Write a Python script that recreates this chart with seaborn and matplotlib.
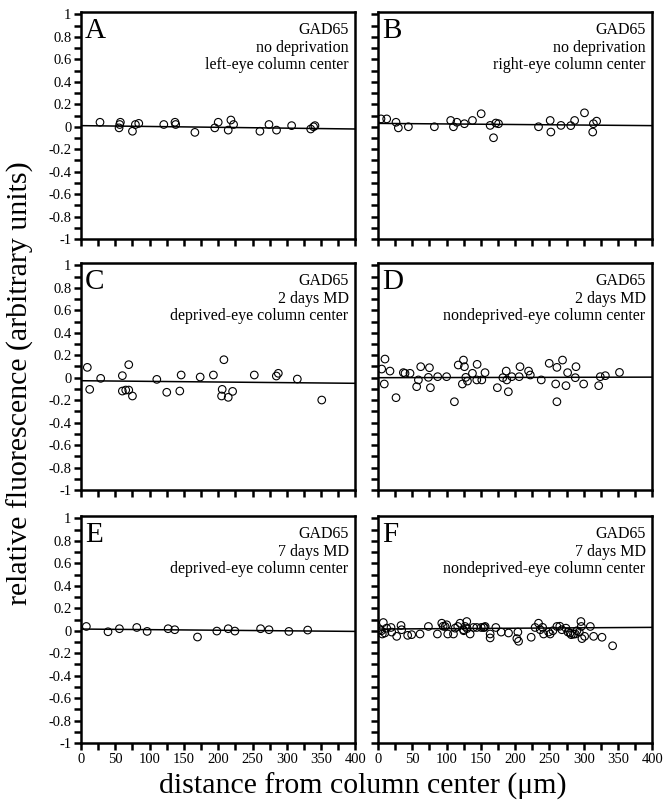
import numpy as np
import pandas as pd
import matplotlib
matplotlib.use("Agg")
import matplotlib.pyplot as plt
from matplotlib.ticker import MultipleLocator
import seaborn as sns

# Panel labels and annotation text
panels = ["A", "B", "C", "D", "E", "F"]
conditions = ["no deprivation", "no deprivation", "2 days MD",
              "2 days MD", "7 days MD", "7 days MD"]
centers = ["left-eye column center", "right-eye column center",
           "deprived-eye column center", "nondeprived-eye column center",
           "deprived-eye column center", "nondeprived-eye column center"]

# Fitted lines (value at 0 um and at 400 um)
fit_y0 = [0.01, 0.03, -0.027, 0.0, 0.015, 0.015]
fit_y1 = [-0.02, 0.01, -0.05, 0.005, -0.006, 0.03]

# Scatter data
a_x = [27.7, 57.4, 56.4, 55.5, 75, 79.3, 84.2, 120.7, 137, 138, 166, 195,
       200, 214.6, 218.5, 222.4, 260.8, 274, 285, 307, 334.8, 339, 341]
a_y = [0.04, 0.04, 0.02, -0.01, -0.04, 0.02, 0.03, 0.02, 0.04, 0.02, -0.05,
       -0.01, 0.04, -0.03, 0.06, 0.02, -0.04, 0.02, -0.03, 0.01, -0.02, 0.0,
       0.01]

b_x = [4.4, 12.7, 26.3, 29.7, 44.3, 82.2, 106, 110, 115, 126, 137.7, 150.4,
       163.5, 168.4, 171.8, 175.7, 234, 251, 252, 266.7, 281, 286.6, 301,
       313, 314, 318.7]
b_y = [0.07, 0.07, 0.04, -0.01, 0.0, 0.0, 0.056, 0.0, 0.04, 0.027, 0.056,
       0.116, 0.012, -0.098, 0.033, 0.027, 0.0, 0.056, -0.047, 0.012, 0.01,
       0.056, 0.124, -0.047, 0.027, 0.05]

c_x = [9.2, 12.7, 28.7, 60.3, 60.3, 65.2, 69.6, 69.6, 75, 110.5, 125, 144,
       146, 173.7, 193, 205.8, 208.3, 204.9, 214.6, 221, 252.6, 284.7, 287.6,
       315.3, 350.9]
c_y = [0.092, -0.104, -0.006, 0.018, -0.119, -0.11, 0.116, -0.11, -0.163,
       -0.015, -0.13, -0.119, 0.024, 0.006, 0.024, -0.104, 0.16, -0.163,
       -0.175, -0.122, 0.024, 0.015, 0.039, -0.012, -0.199]

d_x = [10.2, 5.4, 17.5, 9.2, 26.3, 37, 39.4, 46.7, 56.4, 58.9, 62.3, 73.5,
       75, 76.4, 87, 100, 111.4, 117, 124.6, 126, 123, 128, 130.4, 137.7,
       144.5, 144, 151.3, 156, 174, 182, 186.9, 187.8, 190, 195, 205.8, 207,
       219.5, 222, 238, 249.6, 260.8, 269, 276.4, 259, 260.8, 274, 287.6,
       288.6, 299.8, 321.7, 324, 331.4, 352]
d_y = [0.166, 0.077, 0.059, -0.056, -0.178, 0.045, 0.039, 0.039, -0.08,
       -0.02, 0.098, 0.003, 0.089, -0.089, 0.009, 0.009, -0.214, 0.113,
       0.157, 0.098, -0.056, 0.003, -0.03, 0.039, 0.119, -0.02, -0.02, 0.045,
       -0.089, 0.0, 0.059, -0.02, -0.125, 0.009, 0.009, 0.098, 0.059, 0.024,
       -0.02, 0.128, 0.092, 0.157, 0.045, -0.056, -0.214, -0.071, 0.0, 0.098,
       -0.056, -0.071, 0.009, 0.018, 0.047]

e_x = [7.8, 39.4, 56, 81.3, 96.4, 127, 136.7, 169.8, 198, 214.6, 224.3,
       261.8, 274, 303, 330.4]
e_y = [0.038, -0.009, 0.018, 0.029, -0.006, 0.018, 0.009, -0.056, -0.003,
       0.018, -0.003, 0.018, 0.009, -0.006, 0.006]

f_x = [7.8, 2.9, 6.3, 12.7, 19, 20, 27.3, 33.6, 34.5, 43.3, 49.1, 61.3, 73.5,
       86.6, 93, 97.8, 100.2, 101.7, 110, 112.4, 116.3, 119.7, 124.6, 129.4,
       127, 134.3, 139.2, 144, 150.4, 153.8, 156.2, 163.5, 163.5, 171.8,
       179.6, 190.3, 203.9, 202.4, 204.9, 223.3, 229, 234, 236.5, 241.4,
       248.7, 251, 260.8, 268, 274, 276.9, 281.7, 287.6, 293.4, 295.8, 296.4,
       297.3, 301.2, 309.5, 314.3, 326.5, 342,
       5, 10, 95, 125, 130, 155, 240, 255, 265, 280, 285, 290]
f_y = [0.073, 0.009, -0.029, 0.023, 0.029, -0.012, -0.05, 0.047, 0.009,
       -0.041, -0.035, -0.029, 0.038, -0.029, 0.067, 0.038, 0.053, -0.029,
       -0.029, 0.023, 0.038, 0.067, 0.009, 0.082, 0.038, -0.029, 0.029,
       0.029, 0.029, 0.029, 0.038, -0.029, -0.064, 0.029, -0.012, -0.02,
       -0.012, -0.07, -0.094, -0.058, 0.029, 0.067, 0.009, -0.029, -0.012,
       -0.029, 0.038, 0.009, 0.023, -0.012, -0.035, -0.029, -0.012, 0.082,
       0.038, -0.07, -0.05, 0.038, -0.05, -0.058, -0.134,
       0.0, -0.02, 0.04, 0.0, 0.02, 0.03, 0.03, 0.0, 0.04, -0.02, -0.03, 0.0]

xs = [a_x, b_x, c_x, d_x, e_x, f_x]
ys = [a_y, b_y, c_y, d_y, e_y, f_y]

df = pd.concat([pd.DataFrame({"panel": p, "x": x, "y": y})
                for p, x, y in zip(panels, xs, ys)], ignore_index=True)

sns.set_style("ticks")
plt.rcParams["font.family"] = ["Liberation Serif", "DejaVu Serif"]
plt.rcParams["axes.linewidth"] = 1.8
plt.rcParams["axes.edgecolor"] = "black"
plt.rcParams["xtick.color"] = "black"
plt.rcParams["ytick.color"] = "black"
plt.rcParams["text.color"] = "black"

fig = plt.figure(figsize=(6.71, 8.10), dpi=100)

# axes boxes in figure fraction: left, bottom, width, height
lefts = [0.1207, 0.5633]
bottoms = [0.7049, 0.3951, 0.0827]
width = 0.4090
height = 0.2800

for i, p in enumerate(panels):
    row, col = divmod(i, 2)
    ax = fig.add_axes([lefts[col], bottoms[row], width, height])
    sub = df[df["panel"] == p]
    sns.lineplot(x=[0, 400], y=[fit_y0[i], fit_y1[i]], ax=ax,
                 color="black", linewidth=1.1)
    sns.scatterplot(data=sub, x="x", y="y", ax=ax, s=30, marker="o",
                    facecolor="none", edgecolor="black", linewidth=0.8,
                    zorder=3)
    ax.set_xlim(0, 400)
    ax.set_ylim(-1, 1.02)
    ax.xaxis.set_major_locator(MultipleLocator(50))
    ax.xaxis.set_minor_locator(MultipleLocator(25))
    ax.yaxis.set_major_locator(MultipleLocator(0.2))
    ax.yaxis.set_minor_locator(MultipleLocator(0.1))
    ax.tick_params(which="both", direction="out", length=5, width=1.8,
                   labelsize=10.5, pad=2, colors="black")
    for s in ax.spines.values():
        s.set_visible(True)
        s.set_linewidth(1.8)
        s.set_color("black")
    ax.set_xlabel("")
    ax.set_ylabel("")
    if col == 0:
        ax.set_yticks(np.arange(-1, 1.01, 0.2))
        ax.set_yticklabels(["-1", "-0.8", "-0.6", "-0.4", "-0.2", "0",
                            "0.2", "0.4", "0.6", "0.8", "1"])
    else:
        ax.set_yticklabels([])
    if row == 2:
        ax.set_xticks(np.arange(0, 401, 50))
        ax.set_xticklabels([str(v) for v in range(0, 401, 50)])
    else:
        ax.set_xticklabels([])
    ax.text(0.015, 0.975, p, transform=ax.transAxes, fontsize=21,
            ha="left", va="top", color="black")
    ax.text(0.975, 0.955, "GAD65\n" + conditions[i] + "\n" + centers[i],
            transform=ax.transAxes, fontsize=11.5, ha="right", va="top",
            linespacing=1.1, color="black")

fig.text(0.031, 0.527, "relative fluorescence (arbitrary units)",
         rotation=90, ha="center", va="center", fontsize=21.5, color="black")
fig.text(0.541, 0.029, "distance from column center (μm)",
         ha="center", va="center", fontsize=21.5, color="black")

fig.savefig("out.png", dpi=100)
